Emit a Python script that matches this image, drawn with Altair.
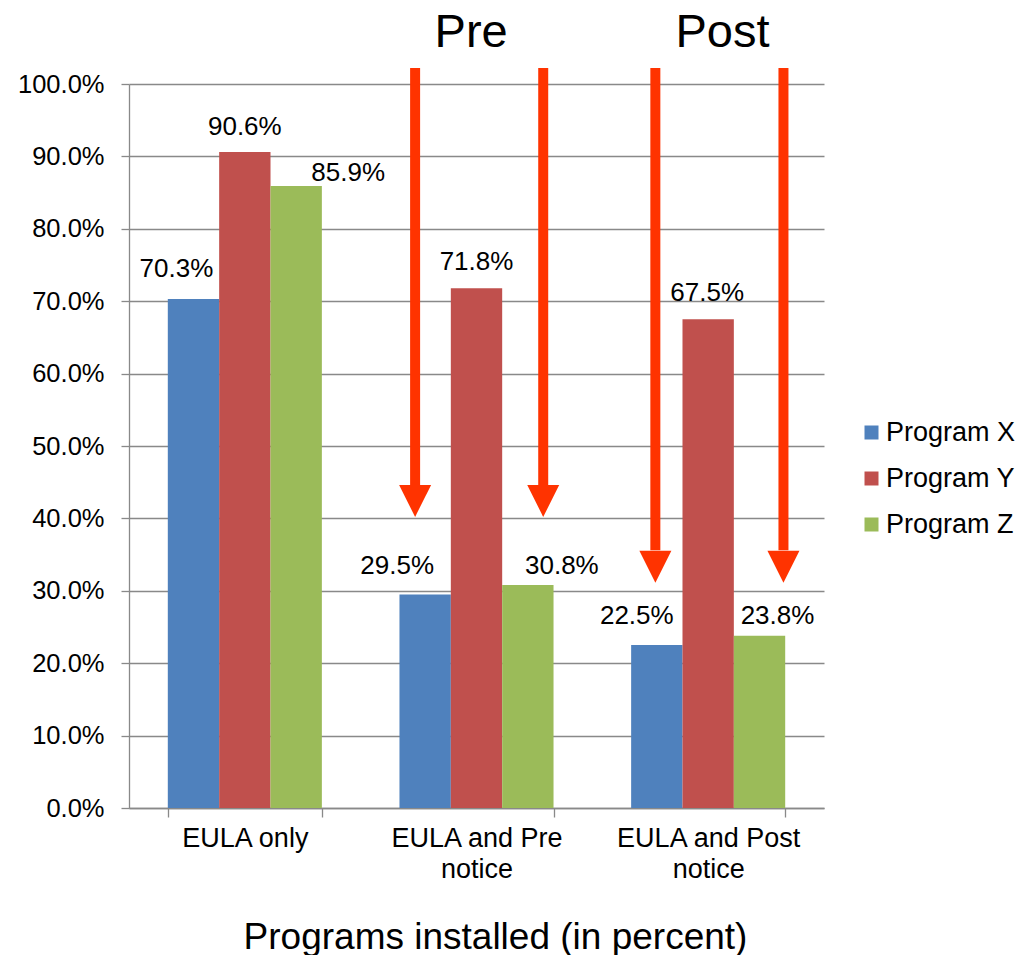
import altair as alt
import pandas as pd

# ---- data -------------------------------------------------------------
categories = ["EULA only", "EULA and Pre notice", "EULA and Post notice"]
series = ["Program X", "Program Y", "Program Z"]
program_x = [0.703, 0.295, 0.225]
program_y = [0.906, 0.718, 0.675]
program_z = [0.859, 0.308, 0.238]
colors = ["#4F81BD", "#C0504D", "#9BBB59"]

# value-label nudges in pixels (dx, dy) per series, one per category
label_dx = {"Program X": [-17, -28, -20], "Program Y": [0, 0, -1], "Program Z": [52, 34, 18]}
label_dy = {"Program X": [-22, -20, -21], "Program Y": [-17, -18, -18], "Program Z": [-5, -11, -12]}

# annotation arrows, in category units along x and share units along y
arrow_x = [1.235, 1.788, 2.272, 2.825]
arrow_top = [1.022, 1.022, 1.022, 1.022]
arrow_base = [0.446, 0.446, 0.356, 0.356]
arrow_tip = [0.402, 0.402, 0.311, 0.311]
phase_labels = ["Pre", "Post"]
phase_x = [1.477, 2.562]
phase_y = [1.051, 1.051]

RED = "#FF3300"
GRID = "#898989"
FONT = "Liberation Sans"

rows = []
for s, vals in zip(series, [program_x, program_y, program_z]):
    for c, v in zip(categories, vals):
        rows.append({"category": c, "series": s, "value": v})
df = pd.DataFrame(rows)

arrows = pd.DataFrame({"x": arrow_x, "top": arrow_top, "base": arrow_base, "tip": arrow_tip})
phases = pd.DataFrame({"label": phase_labels, "x": phase_x, "y": phase_y})

label_expr = ("indexof(datum.label, ' notice') > 0 ? "
              "[replace(datum.label, ' notice', ''), 'notice'] : datum.label")

x_band = alt.X(
    "category:N",
    sort=categories,
    scale=alt.Scale(paddingInner=0.335, paddingOuter=0.1675),
    axis=alt.Axis(
        title="Programs installed (in percent)",
        titleFontSize=37,
        titleFontWeight="normal",
        titleColor="black",
        titleX=366,
        titleY=140,
        titleBaseline="alphabetic",
        labelAngle=0,
        labelFontSize=27,
        labelColor="black",
        labelPadding=8,
        labelLineHeight=31,
        labelLimit=400,
        labelExpr=label_expr,
        tickBand="extent",
        tickSize=9,
        tickColor=GRID,
        domainColor=GRID,
        domainWidth=1.3,
        tickWidth=1.3,
    ),
)
x_off = alt.XOffset("series:N", sort=series, scale=alt.Scale(paddingInner=0, paddingOuter=0))
y_val = alt.Y(
    "value:Q",
    scale=alt.Scale(domain=[0, 1]),
    axis=alt.Axis(
        values=[i / 10 for i in range(11)],
        format=".1%",
        title=None,
        grid=True,
        gridColor=GRID,
        gridWidth=1.3,
        domainColor=GRID,
        domainWidth=1.3,
        tickColor=GRID,
        tickWidth=1.3,
        tickSize=8,
        labelFontSize=25.5,
        labelColor="black",
        labelPadding=17,
    ),
)

base = alt.Chart(df)
bars = base.mark_bar().encode(
    x=x_band,
    xOffset=x_off,
    y=y_val,
    color=alt.Color(
        "series:N",
        sort=series,
        scale=alt.Scale(domain=series, range=colors),
        legend=alt.Legend(
            title=None,
            orient="none",
            legendX=729,
            legendY=335,
            padding=0,
            symbolType="square",
            symbolSize=196,
            symbolStrokeWidth=0,
            labelFontSize=27,
            labelColor="black",
            labelOffset=1,
            labelLimit=300,
            rowPadding=18,
        ),
    ),
)

# value labels, each nudged off its bar
texts = []
for s in series:
    for i, c in enumerate(categories):
        texts.append(
            base.transform_filter(
                (alt.datum.series == s) & (alt.datum.category == c)
            ).mark_text(
                fontSize=26, color="black", baseline="alphabetic", align="center",
                dx=label_dx[s][i], dy=label_dy[s][i],
            ).encode(
                x=alt.X("category:N", sort=categories),
                xOffset=alt.XOffset("series:N", sort=series),
                y=alt.Y("value:Q"),
                text=alt.Text("value:Q", format=".1%"),
            )
        )

bar_group = alt.layer(bars, *texts)

x_q = alt.X("x:Q", scale=alt.Scale(domain=[0, 3], nice=False, zero=False), axis=None)
shafts = alt.Chart(arrows).mark_rule(color=RED, strokeWidth=10, strokeCap="butt").encode(
    x=x_q, y=alt.Y("top:Q"), y2="base:Q"
)
heads = alt.Chart(arrows).mark_point(
    shape="M-1,-2L1,-2L0,0Z", size=1024, filled=True, color=RED, opacity=1, strokeWidth=0
).encode(x=x_q, y=alt.Y("tip:Q"))
phase_text = alt.Chart(phases).mark_text(
    fontSize=47, color="black", baseline="alphabetic", align="center"
).encode(x=x_q, y=alt.Y("y:Q"), text="label:N")

arrow_group = alt.layer(shafts, heads, phase_text)

chart = (
    alt.layer(bar_group, arrow_group)
    .resolve_scale(x="independent")
    .properties(
        width=695,
        height=724,
        autosize="none",
        padding={"left": 129, "top": 84, "right": 205, "bottom": 147},
    )
    .configure(font=FONT)
    .configure_view(stroke=None)
)

chart.save("out.html", embed_options={"renderer": "svg", "actions": False})
